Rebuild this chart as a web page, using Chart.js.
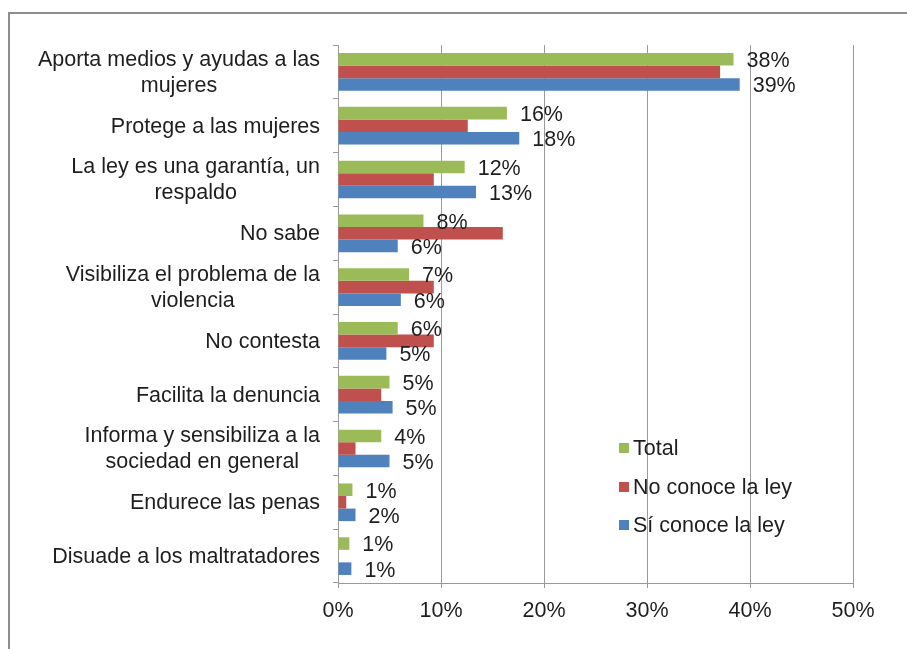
<!DOCTYPE html>
<html>
<head>
<meta charset="utf-8">
<script src="https://cdn.jsdelivr.net/npm/chart.js@4"></script>
<style>
  html, body { margin: 0; padding: 0; background: #ffffff; overflow: hidden; }
  #wrap { position: relative; width: 907px; height: 649px; }
  #frame { position: absolute; left: 8px; top: 12px; width: 960px; height: 700px; border: 2px solid #8e8e8e; box-sizing: border-box; }
  canvas { position: absolute; left: 0; top: 0; }
</style>
</head>
<body>
<div id="wrap">
  <div id="frame"></div>
  <canvas id="c" width="907" height="649"></canvas>
</div>
<script>
const categories = [
  ["Aporta medios y ayudas a las", "mujeres"],
  ["Protege a las mujeres"],
  ["La ley es una garantía, un", "respaldo"],
  ["No sabe"],
  ["Visibiliza el problema de la", "violencia"],
  ["No contesta"],
  ["Facilita la denuncia"],
  ["Informa y sensibiliza a la", "sociedad en general"],
  ["Endurece las penas"],
  ["Disuade a los maltratadores"]
];
const seriesNames = ["Total", "No conoce la ley", "Sí conoce la ley"];
const totalValues   = [38.4, 16.4, 12.3, 8.3, 6.9, 5.8, 5.0, 4.2, 1.4, 1.1];
const noConoceValues = [37.1, 12.6, 9.3, 16.0, 9.3, 9.3, 4.2, 1.7, 0.8, 0];
const siConoceValues = [39.0, 17.6, 13.4, 5.8, 6.1, 4.7, 5.3, 5.0, 1.7, 1.3];
const xTicks = [0, 10, 20, 30, 40, 50];
const colors = ["#9BBB59", "#C0504D", "#4F81BD"];
const labeledSeries = [0, 2];

const FONT = "'Liberation Sans', Arial, sans-serif";
const FS = 21.5;
const TEXT = "#1e1e1e";
const GRID = "#9a9a9a";

const yLabelsPlugin = {
  id: 'yLabels',
  afterDraw(chart) {
    const ctx = chart.ctx;
    const y = chart.scales.y;
    ctx.save();
    ctx.font = FS + "px " + FONT;
    ctx.fillStyle = TEXT;
    ctx.textBaseline = 'middle';
    ctx.textAlign = 'center';
    const right = 320, lh = 26;
    categories.forEach((lines, i) => {
      const cy = y.getPixelForValue(i);
      const w = Math.max(...lines.map(l => ctx.measureText(l).width));
      const cx = right - w / 2;
      const start = cy - (lines.length - 1) * lh / 2;
      lines.forEach((l, k) => ctx.fillText(l, cx, start + k * lh + 1));
    });
    ctx.restore();
  }
};

const valueLabelsPlugin = {
  id: 'valueLabels',
  afterDatasetsDraw(chart) {
    const ctx = chart.ctx;
    ctx.save();
    ctx.font = FS + "px " + FONT;
    ctx.fillStyle = TEXT;
    ctx.textBaseline = 'middle';
    ctx.textAlign = 'left';
    labeledSeries.forEach(di => {
      const meta = chart.getDatasetMeta(di);
      const data = chart.data.datasets[di].data;
      meta.data.forEach((bar, i) => {
        ctx.fillText(Math.round(data[i]) + '%', bar.x + 13, bar.y + 2);
      });
    });
    ctx.restore();
  }
};

const legendPlugin = {
  id: 'customLegend',
  afterDraw(chart) {
    const ctx = chart.ctx;
    ctx.save();
    ctx.font = FS + "px " + FONT;
    ctx.textBaseline = 'middle';
    ctx.textAlign = 'left';
    const x0 = 619, ys = [448, 487, 525];
    chart.data.datasets.forEach((ds, i) => {
      ctx.fillStyle = ds.backgroundColor;
      ctx.fillRect(x0, ys[i] - 5, 10, 10);
      ctx.fillStyle = TEXT;
      ctx.fillText(ds.label, x0 + 14, ys[i] + 1);
    });
    ctx.restore();
  }
};

new Chart(document.getElementById('c'), {
  type: 'bar',
  data: {
    labels: categories,
    datasets: [
      { label: seriesNames[0], data: totalValues, backgroundColor: colors[0] },
      { label: seriesNames[1], data: noConoceValues, backgroundColor: colors[1] },
      { label: seriesNames[2], data: siConoceValues, backgroundColor: colors[2] }
    ]
  },
  options: {
    indexAxis: 'y',
    responsive: false,
    animation: false,
    devicePixelRatio: 1,
    datasets: { bar: { categoryPercentage: 0.70, barPercentage: 1.0, borderWidth: 0 } },
    layout: { padding: { top: 45, right: 54, left: 0, bottom: 0 } },
    plugins: { legend: { display: false }, tooltip: { enabled: false } },
    scales: {
      x: {
        type: 'linear',
        min: 0, max: 50,
        afterBuildTicks(scale) { scale.ticks = xTicks.map(v => ({ value: v })); },
        afterFit(scale) { scale.height = 66; },
        ticks: {
          callback: v => v + '%',
          color: TEXT,
          font: { family: FONT, size: FS },
          padding: 10,
          maxRotation: 0
        },
        grid: { color: GRID, lineWidth: 1, tickLength: 5, drawTicks: true },
        border: { color: GRID, width: 1 }
      },
      y: {
        type: 'category',
        offset: true,
        afterFit(scale) { scale.width = 338; },
        ticks: { display: false },
        grid: { drawOnChartArea: false, drawTicks: true, tickLength: 5, offset: true, color: GRID },
        border: { color: GRID, width: 1 }
      }
    }
  },
  plugins: [yLabelsPlugin, valueLabelsPlugin, legendPlugin]
});
</script>
</body>
</html>
